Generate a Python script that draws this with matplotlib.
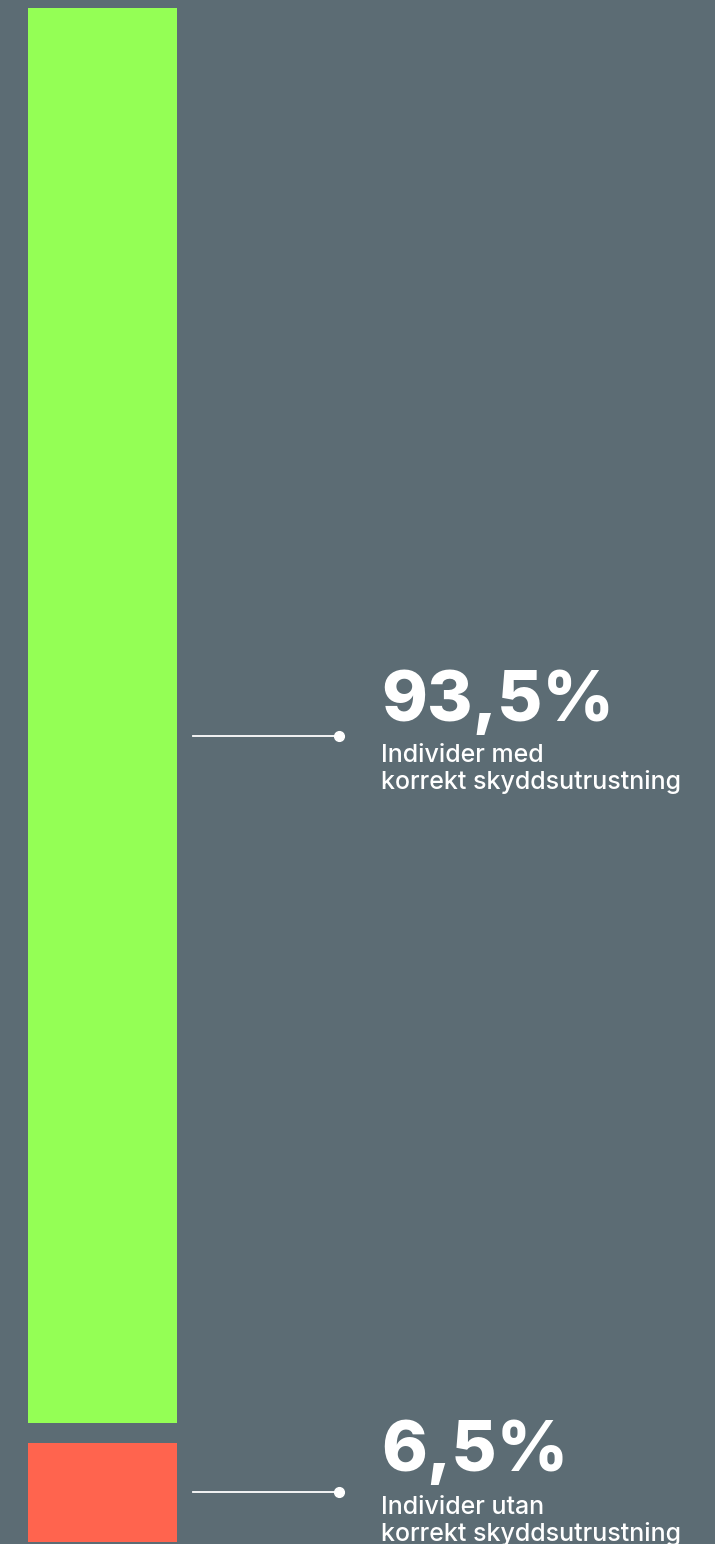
import matplotlib.pyplot as plt

# data
shares = [93.5, 6.5]
values_txt = ["93,5%", "6,5%"]
labels = ["Individer med\nkorrekt skyddsutrustning",
          "Individer utan\nkorrekt skyddsutrustning"]
colors = ["#94ff55", "#ff644e"]

bg = "#5c6c74"
gap = 1.32          # space between the two pieces (in % units)
px_per_unit = 15.134

fig = plt.figure(figsize=(7.15, 15.44), dpi=100, facecolor=bg)
ax = fig.add_axes([0, 0, 1, 1])
ax.set_facecolor(bg)

# red at the bottom, green stacked above with a gap
bottoms = [shares[1] + gap, 0]
for s, b, c in zip(shares, bottoms, colors):
    ax.bar(0, s, width=1, bottom=b, align="edge", color=c, linewidth=0)

ax.set_xlim(-28 / 149, (715 - 28) / 149)
ax.set_ylim(-2.5 / px_per_unit, 1541.5 / px_per_unit)
ax.axis("off")

line_x0 = (193 - 28) / 149
line_x1 = (339 - 28) / 149
text_x = (381 - 28) / 149
line_shift = [gap, 0]
num_off = [15, 21]
sub_off = [-53, -49]   # baseline of the second subtitle line

for s, b, v, lab, sh, no, so in zip(shares, bottoms, values_txt, labels,
                                     line_shift, num_off, sub_off):
    y = b + s / 2 - sh
    ax.plot([line_x0, line_x1], [y, y], color="white", lw=1.3)
    ax.plot(line_x1, y, "o", color="white", ms=7)
    ax.annotate(v, xy=(text_x, y), xytext=(0, no), textcoords="offset pixels",
                va="baseline", ha="left", color="white", fontsize=50,
                fontweight="heavy", family=["Inter", "DejaVu Sans"])
    ax.annotate(lab, xy=(text_x, y), xytext=(0, so), textcoords="offset pixels",
                va="baseline", ha="left", color="white", fontsize=18,
                fontweight="medium", family=["Inter", "DejaVu Sans"],
                linespacing=1.15)

fig.savefig("out.png", dpi=100, facecolor=bg)
